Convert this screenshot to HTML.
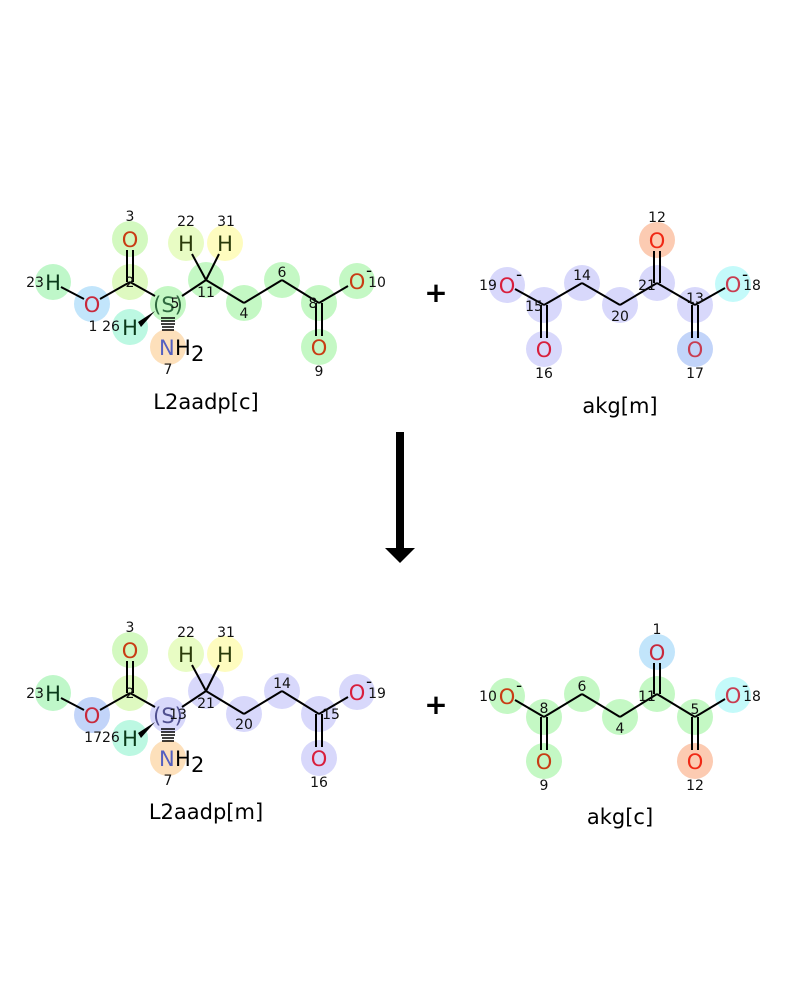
<!DOCTYPE html>
<html><head><meta charset="utf-8"><style>
html,body{margin:0;padding:0;background:#fff}
svg{display:block}
text{font-family:"DejaVu Sans","Liberation Sans",sans-serif}
.n{font-size:14px;fill:#111}
.a{font-size:21px}
.b{stroke:#000;stroke-width:2;fill:none}
circle{r:18px}
</style></head><body>
<svg width="800" height="1000" viewBox="0 0 800 1000">
<!-- ===== TOP LEFT L2aadp[c] ===== -->
<g>
<circle cx="53" cy="282" r="18" fill="#bff7c9"/>
<circle cx="92" cy="304" r="18" fill="#c2e5fb"/>
<circle cx="130" cy="282" r="18" fill="#def9c0"/>
<circle cx="130" cy="239" r="18" fill="#d3f9c0"/>
<circle cx="168" cy="304" r="18" fill="#c4f8c4"/>
<circle cx="130" cy="327" r="18" fill="#bcf8e2"/>
<circle cx="168" cy="347" r="18" fill="#fde0bb"/>
<circle cx="206" cy="280" r="18" fill="#c4f8c4"/>
<circle cx="186" cy="243" r="18" fill="#e8fcc4"/>
<circle cx="225" cy="243" r="18" fill="#fefcbf"/>
<circle cx="244" cy="303" r="18" fill="#c4f8c4"/>
<circle cx="282" cy="280" r="18" fill="#c4f8c4"/>
<circle cx="319" cy="303" r="18" fill="#c4f8c4"/>
<circle cx="319" cy="347" r="18" fill="#c4f8c4"/>
<circle cx="357" cy="281" r="18" fill="#c4f8c4"/>
<line class="b" x1="61" y1="287" x2="84" y2="299"/>
<line class="b" x1="100" y1="299" x2="130" y2="282"/>
<line class="b" x1="127" y1="282" x2="127" y2="250"/>
<line class="b" x1="133" y1="282" x2="133" y2="250"/>
<line class="b" x1="130" y1="282" x2="155" y2="296"/>
<line class="b" x1="182" y1="296" x2="206" y2="280"/>
<line class="b" x1="206" y1="280" x2="192" y2="254"/>
<line class="b" x1="206" y1="280" x2="219" y2="254"/>
<line class="b" x1="206" y1="280" x2="244" y2="303"/>
<line class="b" x1="244" y1="303" x2="282" y2="280"/>
<line class="b" x1="282" y1="280" x2="319" y2="303"/>
<line class="b" x1="319" y1="303" x2="348" y2="286"/>
<line class="b" x1="316" y1="303" x2="316" y2="336"/>
<line class="b" x1="322" y1="303" x2="322" y2="336"/>
<polygon points="155,311 138,322 141,327" fill="#000"/>
<g stroke="#000" stroke-width="1.5">
<line x1="161" y1="318" x2="175" y2="318"/><line x1="161" y1="321" x2="175" y2="321"/><line x1="161" y1="324" x2="175" y2="324"/><line x1="162" y1="327" x2="174" y2="327"/><line x1="162" y1="330" x2="174" y2="330"/>
</g>
<text class="a" x="53" y="290" text-anchor="middle" fill="#0a3a1a">H</text>
<text class="a" x="92" y="312" text-anchor="middle" fill="#c8283c">O</text>
<text class="a" x="130" y="247" text-anchor="middle" fill="#c83c14">O</text>
<text class="a" x="168" y="312" text-anchor="middle" fill="#2f6a3f">(S)</text>
<text class="a" x="130" y="335" text-anchor="middle" fill="#0a3a1a">H</text>
<text class="a" x="159" y="355" fill="#5560c0">N</text><text class="a" x="175" y="355" fill="#000">H</text><text x="191" y="361" font-size="21" fill="#000">2</text>
<text class="a" x="186" y="251" text-anchor="middle" fill="#2a3a0a">H</text>
<text class="a" x="225" y="251" text-anchor="middle" fill="#2a3a0a">H</text>
<text class="a" x="319" y="355" text-anchor="middle" fill="#c83c14">O</text>
<text class="a" x="357" y="289" text-anchor="middle" fill="#c83c14">O</text>
<text x="366" y="276" font-size="17" fill="#000">-</text>
<text class="n" x="35" y="287" text-anchor="middle">23</text>
<text class="n" x="93" y="331" text-anchor="middle">1</text>
<text class="n" x="111" y="331" text-anchor="middle">26</text>
<text class="n" x="130" y="221" text-anchor="middle">3</text>
<text class="n" x="130" y="287" text-anchor="middle" fill="#2a6a2a">2</text>
<text class="n" x="175" y="308" text-anchor="middle" fill="#2a6a2a">5</text>
<text class="n" x="168" y="374" text-anchor="middle">7</text>
<text class="n" x="186" y="226" text-anchor="middle">22</text>
<text class="n" x="226" y="226" text-anchor="middle">31</text>
<text class="n" x="206" y="297" text-anchor="middle" fill="#2a6a2a">11</text>
<text class="n" x="244" y="318" text-anchor="middle" fill="#2a6a2a">4</text>
<text class="n" x="282" y="277" text-anchor="middle" fill="#2a6a2a">6</text>
<text class="n" x="313" y="308" text-anchor="middle" fill="#2a6a2a">8</text>
<text class="n" x="319" y="376" text-anchor="middle">9</text>
<text class="n" x="377" y="287" text-anchor="middle">10</text>
<text x="206" y="409" font-size="21" text-anchor="middle" fill="#000">L2aadp[c]</text>
</g>

<!-- ===== TOP RIGHT akg[m] ===== -->
<g>
<circle cx="507" cy="285" r="18" fill="#d8d8fb"/>
<circle cx="544" cy="305" r="18" fill="#d8d8fb"/>
<circle cx="544" cy="349" r="18" fill="#d8d8fb"/>
<circle cx="582" cy="283" r="18" fill="#d8d8fb"/>
<circle cx="620" cy="305" r="18" fill="#d8d8fb"/>
<circle cx="657" cy="283" r="18" fill="#d8d8fb"/>
<circle cx="657" cy="240" r="18" fill="#fccbb2"/>
<circle cx="695" cy="305" r="18" fill="#d8d8fb"/>
<circle cx="733" cy="284" r="18" fill="#c4fafa"/>
<circle cx="695" cy="349" r="18" fill="#c2d4f9"/>
<line class="b" x1="515" y1="289" x2="544" y2="305"/>
<line class="b" x1="541" y1="305" x2="541" y2="338"/>
<line class="b" x1="547" y1="305" x2="547" y2="338"/>
<line class="b" x1="544" y1="305" x2="582" y2="283"/>
<line class="b" x1="582" y1="283" x2="620" y2="305"/>
<line class="b" x1="620" y1="305" x2="657" y2="283"/>
<line class="b" x1="654" y1="283" x2="654" y2="251"/>
<line class="b" x1="660" y1="283" x2="660" y2="251"/>
<line class="b" x1="657" y1="283" x2="695" y2="305"/>
<line class="b" x1="695" y1="305" x2="725" y2="288"/>
<line class="b" x1="692" y1="305" x2="692" y2="338"/>
<line class="b" x1="698" y1="305" x2="698" y2="338"/>
<text class="a" x="507" y="293" text-anchor="middle" fill="#d81e3c">O</text>
<text x="516" y="280" font-size="17">-</text>
<text class="a" x="544" y="357" text-anchor="middle" fill="#d81e3c">O</text>
<text class="a" x="657" y="248" text-anchor="middle" fill="#f02814">O</text>
<text class="a" x="733" y="292" text-anchor="middle" fill="#c83c50">O</text>
<text x="742" y="280" font-size="17">-</text>
<text class="a" x="695" y="357" text-anchor="middle" fill="#c83c50">O</text>
<text class="n" x="488" y="290" text-anchor="middle">19</text>
<text class="n" x="534" y="311" text-anchor="middle">15</text>
<text class="n" x="544" y="378" text-anchor="middle">16</text>
<text class="n" x="582" y="280" text-anchor="middle">14</text>
<text class="n" x="620" y="321" text-anchor="middle">20</text>
<text class="n" x="647" y="290" text-anchor="middle">21</text>
<text class="n" x="657" y="222" text-anchor="middle">12</text>
<text class="n" x="695" y="303" text-anchor="middle">13</text>
<text class="n" x="752" y="290" text-anchor="middle">18</text>
<text class="n" x="695" y="378" text-anchor="middle">17</text>
<text x="620" y="413" font-size="21" text-anchor="middle">akg[m]</text>
</g>
<text x="436" y="302" font-size="28" text-anchor="middle" font-weight="bold">+</text>

<!-- arrow -->
<rect x="396" y="432" width="8" height="117" fill="#000"/>
<polygon points="385,548 415,548 400,563" fill="#000"/>

<!-- ===== BOTTOM LEFT L2aadp[m] ===== -->
<g transform="translate(0,411)">
<circle cx="53" cy="282" r="18" fill="#bff7c9"/>
<circle cx="92" cy="304" r="18" fill="#c2d4f9"/>
<circle cx="130" cy="282" r="18" fill="#def9c0"/>
<circle cx="130" cy="239" r="18" fill="#d3f9c0"/>
<circle cx="168" cy="304" r="18" fill="#d8d8fb"/>
<circle cx="130" cy="327" r="18" fill="#bcf8e2"/>
<circle cx="168" cy="347" r="18" fill="#fde0bb"/>
<circle cx="206" cy="280" r="18" fill="#d8d8fb"/>
<circle cx="186" cy="243" r="18" fill="#e8fcc4"/>
<circle cx="225" cy="243" r="18" fill="#fefcbf"/>
<circle cx="244" cy="303" r="18" fill="#d8d8fb"/>
<circle cx="282" cy="280" r="18" fill="#d8d8fb"/>
<circle cx="319" cy="303" r="18" fill="#d8d8fb"/>
<circle cx="319" cy="347" r="18" fill="#d8d8fb"/>
<circle cx="357" cy="281" r="18" fill="#d8d8fb"/>
<line class="b" x1="61" y1="287" x2="84" y2="299"/>
<line class="b" x1="100" y1="299" x2="130" y2="282"/>
<line class="b" x1="127" y1="282" x2="127" y2="250"/>
<line class="b" x1="133" y1="282" x2="133" y2="250"/>
<line class="b" x1="130" y1="282" x2="155" y2="296"/>
<line class="b" x1="182" y1="296" x2="206" y2="280"/>
<line class="b" x1="206" y1="280" x2="192" y2="254"/>
<line class="b" x1="206" y1="280" x2="219" y2="254"/>
<line class="b" x1="206" y1="280" x2="244" y2="303"/>
<line class="b" x1="244" y1="303" x2="282" y2="280"/>
<line class="b" x1="282" y1="280" x2="319" y2="303"/>
<line class="b" x1="319" y1="303" x2="348" y2="286"/>
<line class="b" x1="316" y1="303" x2="316" y2="336"/>
<line class="b" x1="322" y1="303" x2="322" y2="336"/>
<polygon points="155,311 138,322 141,327" fill="#000"/>
<g stroke="#000" stroke-width="1.5">
<line x1="161" y1="318" x2="175" y2="318"/><line x1="161" y1="321" x2="175" y2="321"/><line x1="161" y1="324" x2="175" y2="324"/><line x1="162" y1="327" x2="174" y2="327"/><line x1="162" y1="330" x2="174" y2="330"/>
</g>
<text class="a" x="53" y="290" text-anchor="middle" fill="#0a3a1a">H</text>
<text class="a" x="92" y="312" text-anchor="middle" fill="#c8283c">O</text>
<text class="a" x="130" y="247" text-anchor="middle" fill="#c83c14">O</text>
<text class="a" x="168" y="312" text-anchor="middle" fill="#505090">(S)</text>
<text class="a" x="130" y="335" text-anchor="middle" fill="#0a3a1a">H</text>
<text class="a" x="159" y="355" fill="#5560c0">N</text><text class="a" x="175" y="355" fill="#000">H</text><text x="191" y="361" font-size="21" fill="#000">2</text>
<text class="a" x="186" y="251" text-anchor="middle" fill="#2a3a0a">H</text>
<text class="a" x="225" y="251" text-anchor="middle" fill="#2a3a0a">H</text>
<text class="a" x="319" y="355" text-anchor="middle" fill="#d81e3c">O</text>
<text class="a" x="357" y="289" text-anchor="middle" fill="#d81e3c">O</text>
<text x="366" y="276" font-size="17" fill="#000">-</text>
<text class="n" x="35" y="287" text-anchor="middle">23</text>
<text class="n" x="102" y="331" text-anchor="middle">1726</text>
<text class="n" x="130" y="221" text-anchor="middle">3</text>
<text class="n" x="130" y="287" text-anchor="middle" fill="#2a6a2a">2</text>
<text class="n" x="178" y="308" text-anchor="middle" fill="#333">13</text>
<text class="n" x="168" y="374" text-anchor="middle">7</text>
<text class="n" x="186" y="226" text-anchor="middle">22</text>
<text class="n" x="226" y="226" text-anchor="middle">31</text>
<text class="n" x="206" y="297" text-anchor="middle">21</text>
<text class="n" x="244" y="318" text-anchor="middle">20</text>
<text class="n" x="282" y="277" text-anchor="middle">14</text>
<text class="n" x="331" y="308" text-anchor="middle">15</text>
<text class="n" x="319" y="376" text-anchor="middle">16</text>
<text class="n" x="377" y="287" text-anchor="middle">19</text>
<text x="206" y="408" font-size="21" text-anchor="middle" fill="#000">L2aadp[m]</text>
</g>

<!-- ===== BOTTOM RIGHT akg[c] ===== -->
<g transform="translate(0,412)">
<circle cx="507" cy="284" r="18" fill="#c4f8c4"/>
<circle cx="544" cy="305" r="18" fill="#c4f8c4"/>
<circle cx="544" cy="349" r="18" fill="#c4f8c4"/>
<circle cx="582" cy="282" r="18" fill="#c4f8c4"/>
<circle cx="620" cy="305" r="18" fill="#c4f8c4"/>
<circle cx="657" cy="282" r="18" fill="#c4f8c4"/>
<circle cx="657" cy="240" r="18" fill="#c2e5fb"/>
<circle cx="695" cy="305" r="18" fill="#c4f8c4"/>
<circle cx="733" cy="283" r="18" fill="#c4fafa"/>
<circle cx="695" cy="349" r="18" fill="#fccbb2"/>
<line class="b" x1="515" y1="288" x2="544" y2="305"/>
<line class="b" x1="541" y1="305" x2="541" y2="338"/>
<line class="b" x1="547" y1="305" x2="547" y2="338"/>
<line class="b" x1="544" y1="305" x2="582" y2="282"/>
<line class="b" x1="582" y1="282" x2="620" y2="305"/>
<line class="b" x1="620" y1="305" x2="657" y2="282"/>
<line class="b" x1="654" y1="282" x2="654" y2="251"/>
<line class="b" x1="660" y1="282" x2="660" y2="251"/>
<line class="b" x1="657" y1="282" x2="695" y2="305"/>
<line class="b" x1="695" y1="305" x2="725" y2="287"/>
<line class="b" x1="692" y1="305" x2="692" y2="338"/>
<line class="b" x1="698" y1="305" x2="698" y2="338"/>
<text class="a" x="507" y="292" text-anchor="middle" fill="#c83c14">O</text>
<text x="516" y="279" font-size="17">-</text>
<text class="a" x="544" y="357" text-anchor="middle" fill="#c83c14">O</text>
<text class="a" x="657" y="248" text-anchor="middle" fill="#c8283c">O</text>
<text class="a" x="733" y="291" text-anchor="middle" fill="#c83c50">O</text>
<text x="742" y="279" font-size="17">-</text>
<text class="a" x="695" y="357" text-anchor="middle" fill="#f02814">O</text>
<text class="n" x="488" y="289" text-anchor="middle">10</text>
<text class="n" x="544" y="301" text-anchor="middle" fill="#2a6a2a">8</text>
<text class="n" x="544" y="378" text-anchor="middle">9</text>
<text class="n" x="582" y="279" text-anchor="middle" fill="#2a6a2a">6</text>
<text class="n" x="620" y="321" text-anchor="middle" fill="#2a6a2a">4</text>
<text class="n" x="647" y="289" text-anchor="middle" fill="#2a6a2a">11</text>
<text class="n" x="657" y="222" text-anchor="middle">1</text>
<text class="n" x="695" y="302" text-anchor="middle" fill="#2a6a2a">5</text>
<text class="n" x="752" y="289" text-anchor="middle">18</text>
<text class="n" x="695" y="378" text-anchor="middle">12</text>
<text x="620" y="412" font-size="21" text-anchor="middle">akg[c]</text>
</g>
<text x="436" y="714" font-size="28" text-anchor="middle" font-weight="bold">+</text>
</svg>
</body></html>
